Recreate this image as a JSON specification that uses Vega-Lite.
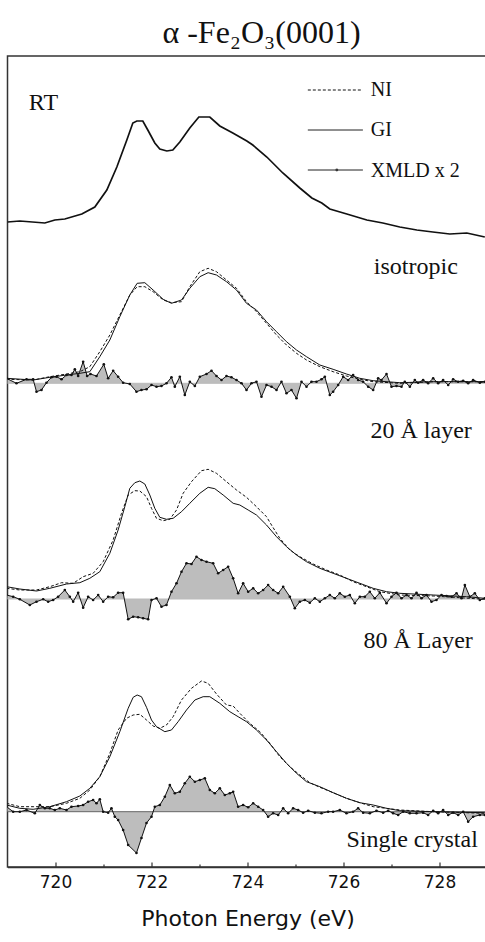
{
"$schema": "https://vega.github.io/schema/vega-lite/v6.json",
"width": 480, "height": 811,
"autosize": {"type": "none"},
"padding": {"left": 7.5, "top": 56, "right": 0, "bottom": 75},
"background": "white",
"title": {"text": "α -Fe₂O₃(0001)", "font": "Liberation Serif", "fontSize": 32, "fontWeight": "normal", "color": "#111", "dx": 14, "offset": 6, "anchor": "middle"},
"config": {"view": {"stroke": "#333", "strokeWidth": 1.5}},
"datasets": {
"RT": [{"E":719.0,"I":645},{"E":719.257,"I":646},{"E":719.778,"I":644},{"E":719.986,"I":647},{"E":720.194,"I":648},{"E":720.548,"I":653},{"E":720.819,"I":660},{"E":721.069,"I":677},{"E":721.278,"I":700},{"E":721.486,"I":727},{"E":721.611,"I":744},{"E":721.694,"I":746},{"E":721.819,"I":746},{"E":721.923,"I":737},{"E":722.069,"I":724},{"E":722.173,"I":718},{"E":722.319,"I":716},{"E":722.444,"I":717},{"E":722.59,"I":725},{"E":722.798,"I":739},{"E":722.986,"I":750},{"E":723.215,"I":750},{"E":723.423,"I":741},{"E":723.694,"I":734},{"E":723.986,"I":726},{"E":724.11,"I":722},{"E":724.403,"I":710},{"E":724.736,"I":694},{"E":725.09,"I":679},{"E":725.34,"I":669},{"E":725.548,"I":664},{"E":725.715,"I":658},{"E":726.069,"I":653},{"E":726.486,"I":647},{"E":726.819,"I":644},{"E":727.173,"I":640},{"E":727.528,"I":637},{"E":727.861,"I":635},{"E":728.215,"I":633},{"E":728.569,"I":634},{"E":728.944,"I":630}],
"isoGI": [{"E":718.979,"I":488.7},{"E":719.534,"I":487},{"E":719.882,"I":489.7},{"E":720.229,"I":492},{"E":720.507,"I":493.7},{"E":720.715,"I":495.3},{"E":720.923,"I":510.3},{"E":721.132,"I":527},{"E":721.34,"I":550.3},{"E":721.548,"I":572},{"E":721.701,"I":583.7},{"E":721.861,"I":584.3},{"E":722.034,"I":577},{"E":722.243,"I":567.7},{"E":722.416,"I":563.7},{"E":722.625,"I":567},{"E":722.798,"I":578.7},{"E":723.007,"I":590.3},{"E":723.18,"I":594.3},{"E":723.354,"I":592},{"E":723.562,"I":585.3},{"E":723.771,"I":577},{"E":723.979,"I":563.7},{"E":724.187,"I":557},{"E":724.396,"I":545.3},{"E":724.604,"I":535.3},{"E":724.812,"I":525.3},{"E":725.021,"I":517},{"E":725.229,"I":510.3},{"E":725.507,"I":502},{"E":725.784,"I":497.7},{"E":726.062,"I":493},{"E":726.34,"I":488.7},{"E":726.618,"I":486.3},{"E":727.173,"I":484.3},{"E":727.868,"I":485.3},{"E":728.944,"I":485.3}],
"isoNI": [{"E":718.979,"I":487.7},{"E":719.534,"I":487},{"E":719.882,"I":490.3},{"E":720.229,"I":493},{"E":720.507,"I":495.3},{"E":720.715,"I":500.3},{"E":720.923,"I":515.3},{"E":721.132,"I":532},{"E":721.34,"I":552},{"E":721.548,"I":572},{"E":721.701,"I":580.3},{"E":721.861,"I":580.3},{"E":722.034,"I":575.3},{"E":722.243,"I":567},{"E":722.416,"I":564.3},{"E":722.625,"I":565.3},{"E":722.798,"I":580.3},{"E":723.007,"I":595.3},{"E":723.18,"I":598.7},{"E":723.354,"I":595.3},{"E":723.562,"I":587},{"E":723.771,"I":578.7},{"E":723.979,"I":565.3},{"E":724.187,"I":555.3},{"E":724.396,"I":543.7},{"E":724.604,"I":532},{"E":724.812,"I":522},{"E":725.021,"I":513.7},{"E":725.229,"I":507},{"E":725.507,"I":500.3},{"E":725.784,"I":495.3},{"E":726.062,"I":491},{"E":726.34,"I":487.7},{"E":726.618,"I":485.3},{"E":727.173,"I":483.7},{"E":727.868,"I":485.3},{"E":728.944,"I":485.3}],
"isoX": [{"E":718.979,"I":488.7},{"E":719.187,"I":483.7},{"E":719.396,"I":487.7},{"E":719.534,"I":487.7},{"E":719.604,"I":475.3},{"E":719.708,"I":477},{"E":719.812,"I":484.3},{"E":719.916,"I":489.7},{"E":720.021,"I":490.3},{"E":720.125,"I":487.7},{"E":720.229,"I":492},{"E":720.333,"I":492},{"E":720.403,"I":497.7},{"E":720.472,"I":491},{"E":720.576,"I":505.3},{"E":720.659,"I":491},{"E":720.729,"I":493},{"E":720.854,"I":491},{"E":721.007,"I":502.7},{"E":721.097,"I":488.7},{"E":721.201,"I":496.3},{"E":721.305,"I":490.3},{"E":721.409,"I":484.3},{"E":721.548,"I":483},{"E":721.687,"I":475.3},{"E":721.791,"I":477},{"E":721.896,"I":477.7},{"E":722.0,"I":482},{"E":722.104,"I":480.3},{"E":722.208,"I":481},{"E":722.312,"I":483.7},{"E":722.416,"I":489.7},{"E":722.486,"I":480.3},{"E":722.59,"I":490.3},{"E":722.694,"I":472},{"E":722.798,"I":485.3},{"E":722.903,"I":481},{"E":723.007,"I":490.3},{"E":723.146,"I":493},{"E":723.25,"I":496.3},{"E":723.354,"I":491},{"E":723.458,"I":487},{"E":723.562,"I":491},{"E":723.666,"I":489.7},{"E":723.771,"I":487},{"E":723.875,"I":483.7},{"E":723.979,"I":477},{"E":724.083,"I":483.7},{"E":724.187,"I":485.3},{"E":724.291,"I":470.3},{"E":724.396,"I":482},{"E":724.5,"I":480.3},{"E":724.604,"I":477},{"E":724.708,"I":485.3},{"E":724.812,"I":473.7},{"E":724.916,"I":477},{"E":725.021,"I":468.7},{"E":725.125,"I":485.3},{"E":725.229,"I":480.3},{"E":725.333,"I":485.3},{"E":725.437,"I":485.3},{"E":725.541,"I":487.7},{"E":725.611,"I":490.3},{"E":725.715,"I":472},{"E":725.784,"I":475.3},{"E":725.889,"I":482},{"E":725.993,"I":490.3},{"E":726.097,"I":487},{"E":726.201,"I":492},{"E":726.305,"I":487},{"E":726.409,"I":485.3},{"E":726.514,"I":480.3},{"E":726.618,"I":477},{"E":726.722,"I":488.7},{"E":726.791,"I":487},{"E":726.896,"I":493},{"E":727.0,"I":480.3},{"E":727.104,"I":481},{"E":727.208,"I":480.3},{"E":727.277,"I":485.3},{"E":727.382,"I":480.3},{"E":727.486,"I":487},{"E":727.555,"I":484.3},{"E":727.659,"I":487},{"E":727.763,"I":483.7},{"E":727.868,"I":488.7},{"E":727.972,"I":483.7},{"E":728.076,"I":487},{"E":728.181,"I":482},{"E":728.284,"I":487.7},{"E":728.389,"I":485.3},{"E":728.493,"I":486.3},{"E":728.597,"I":483.7},{"E":728.701,"I":487},{"E":728.84,"I":484.3},{"E":728.944,"I":485.3}],
"l20GI": [{"E":718.979,"I":280.3},{"E":719.257,"I":278},{"E":719.604,"I":276},{"E":719.882,"I":278.7},{"E":720.229,"I":283},{"E":720.507,"I":284.3},{"E":720.715,"I":288.7},{"E":720.923,"I":295.3},{"E":721.132,"I":313.7},{"E":721.305,"I":337},{"E":721.444,"I":360.3},{"E":721.548,"I":378.7},{"E":721.653,"I":384.3},{"E":721.757,"I":386},{"E":721.861,"I":383},{"E":721.965,"I":372},{"E":722.069,"I":358.7},{"E":722.173,"I":349.7},{"E":722.312,"I":347.7},{"E":722.451,"I":348.7},{"E":722.625,"I":355.3},{"E":722.798,"I":363.7},{"E":723.007,"I":373.7},{"E":723.18,"I":379.7},{"E":723.319,"I":378.3},{"E":723.493,"I":372},{"E":723.701,"I":363.7},{"E":723.84,"I":362},{"E":724.014,"I":357},{"E":724.187,"I":352},{"E":724.396,"I":342},{"E":724.604,"I":330.3},{"E":724.812,"I":320.3},{"E":725.021,"I":312},{"E":725.229,"I":305.3},{"E":725.507,"I":298.7},{"E":725.784,"I":293.7},{"E":726.062,"I":288.7},{"E":726.34,"I":283.7},{"E":726.618,"I":278.7},{"E":726.896,"I":275.3},{"E":727.173,"I":273.7},{"E":727.868,"I":272},{"E":728.562,"I":270.3},{"E":728.944,"I":268.7}],
"l20NI": [{"E":718.979,"I":278.7},{"E":719.257,"I":277},{"E":719.604,"I":277},{"E":719.882,"I":280.3},{"E":720.125,"I":284.3},{"E":720.368,"I":283.7},{"E":720.576,"I":290.3},{"E":720.784,"I":293.7},{"E":720.993,"I":305.3},{"E":721.201,"I":327},{"E":721.375,"I":353.7},{"E":721.514,"I":372},{"E":721.653,"I":376.3},{"E":721.757,"I":376},{"E":721.896,"I":370.3},{"E":722.0,"I":358.7},{"E":722.104,"I":348.7},{"E":722.243,"I":346.3},{"E":722.382,"I":347.7},{"E":722.521,"I":357},{"E":722.659,"I":373.7},{"E":722.833,"I":385.3},{"E":723.041,"I":396.3},{"E":723.18,"I":397.7},{"E":723.354,"I":393.7},{"E":723.562,"I":385.3},{"E":723.771,"I":377},{"E":723.979,"I":369.7},{"E":724.187,"I":360.3},{"E":724.396,"I":350.3},{"E":724.5,"I":342},{"E":724.673,"I":328.7},{"E":724.882,"I":317},{"E":725.09,"I":310.3},{"E":725.368,"I":303},{"E":725.646,"I":297},{"E":725.923,"I":292},{"E":726.201,"I":285.3},{"E":726.479,"I":280.3},{"E":726.757,"I":275.3},{"E":727.173,"I":272},{"E":727.868,"I":271},{"E":728.944,"I":267.7}],
"l20X": [{"E":718.979,"I":272},{"E":719.118,"I":270.3},{"E":719.257,"I":267.7},{"E":719.465,"I":262},{"E":719.604,"I":265.3},{"E":719.743,"I":267.7},{"E":719.847,"I":265.3},{"E":719.951,"I":267},{"E":720.055,"I":270.3},{"E":720.194,"I":277},{"E":720.298,"I":270.3},{"E":720.368,"I":265.3},{"E":720.472,"I":274.3},{"E":720.576,"I":259.3},{"E":720.68,"I":270.3},{"E":720.784,"I":267},{"E":720.889,"I":272},{"E":720.993,"I":265.3},{"E":721.097,"I":270.3},{"E":721.201,"I":269.7},{"E":721.305,"I":274.3},{"E":721.409,"I":274.3},{"E":721.514,"I":247.7},{"E":721.618,"I":250.3},{"E":721.722,"I":249.7},{"E":721.826,"I":248.7},{"E":721.93,"I":247.7},{"E":722.0,"I":267},{"E":722.104,"I":268.7},{"E":722.208,"I":260.3},{"E":722.312,"I":262},{"E":722.416,"I":275.3},{"E":722.521,"I":283.7},{"E":722.625,"I":295.3},{"E":722.729,"I":303.7},{"E":722.833,"I":303},{"E":722.937,"I":310.3},{"E":723.041,"I":307},{"E":723.146,"I":305.3},{"E":723.284,"I":303.7},{"E":723.388,"I":293.7},{"E":723.493,"I":297},{"E":723.597,"I":300.3},{"E":723.701,"I":288.7},{"E":723.805,"I":273.7},{"E":723.909,"I":283.7},{"E":724.014,"I":275.3},{"E":724.118,"I":278.7},{"E":724.222,"I":273.7},{"E":724.326,"I":277},{"E":724.43,"I":282},{"E":724.534,"I":277},{"E":724.639,"I":273.7},{"E":724.743,"I":280.3},{"E":724.882,"I":270.3},{"E":724.986,"I":258.7},{"E":725.09,"I":265.3},{"E":725.194,"I":267},{"E":725.298,"I":264.3},{"E":725.403,"I":268.7},{"E":725.507,"I":265.3},{"E":725.611,"I":268.7},{"E":725.715,"I":272},{"E":725.819,"I":268.7},{"E":725.923,"I":273.7},{"E":726.027,"I":270.3},{"E":726.132,"I":272},{"E":726.236,"I":263.7},{"E":726.34,"I":270.3},{"E":726.444,"I":270.3},{"E":726.548,"I":275.3},{"E":726.652,"I":268.7},{"E":726.757,"I":274.3},{"E":726.896,"I":263.7},{"E":727.0,"I":270.3},{"E":727.104,"I":274.3},{"E":727.208,"I":268.7},{"E":727.312,"I":272},{"E":727.416,"I":268.7},{"E":727.521,"I":274.3},{"E":727.625,"I":268.7},{"E":727.729,"I":272},{"E":727.833,"I":265.3},{"E":727.937,"I":267},{"E":728.041,"I":272},{"E":728.146,"I":271},{"E":728.25,"I":270.3},{"E":728.354,"I":273.7},{"E":728.458,"I":268.7},{"E":728.528,"I":282},{"E":728.632,"I":270.3},{"E":728.736,"I":273.7},{"E":728.84,"I":267},{"E":728.944,"I":268.7}],
"bGI": [{"E":718.979,"I":62},{"E":719.257,"I":58.7},{"E":719.534,"I":57.7},{"E":719.882,"I":60.3},{"E":720.229,"I":65.3},{"E":720.507,"I":71},{"E":720.715,"I":78.7},{"E":720.923,"I":90.3},{"E":721.132,"I":110.3},{"E":721.34,"I":135.3},{"E":721.514,"I":158.7},{"E":721.618,"I":169.7},{"E":721.701,"I":172},{"E":721.791,"I":170.3},{"E":721.896,"I":159.7},{"E":722.0,"I":147},{"E":722.104,"I":140.3},{"E":722.278,"I":135.3},{"E":722.416,"I":137},{"E":722.555,"I":145.3},{"E":722.729,"I":157},{"E":722.903,"I":167},{"E":723.076,"I":170.3},{"E":723.215,"I":170.3},{"E":723.423,"I":163.7},{"E":723.632,"I":155.3},{"E":723.805,"I":150.3},{"E":723.979,"I":145.3},{"E":724.187,"I":137},{"E":724.396,"I":127},{"E":724.604,"I":115.3},{"E":724.812,"I":103.7},{"E":725.021,"I":93.7},{"E":725.229,"I":85.3},{"E":725.507,"I":80.3},{"E":725.784,"I":74.3},{"E":726.062,"I":68.7},{"E":726.34,"I":64.3},{"E":726.618,"I":62},{"E":726.896,"I":58.7},{"E":727.173,"I":56.3},{"E":727.868,"I":55.3},{"E":728.944,"I":54.3}],
"bNI": [{"E":718.979,"I":63.7},{"E":719.257,"I":60.3},{"E":719.534,"I":60.3},{"E":719.882,"I":60.3},{"E":720.229,"I":63.7},{"E":720.507,"I":68.7},{"E":720.715,"I":77},{"E":720.923,"I":90.3},{"E":721.132,"I":113.7},{"E":721.305,"I":137},{"E":721.479,"I":148.7},{"E":721.618,"I":152},{"E":721.757,"I":152.7},{"E":721.896,"I":147},{"E":722.034,"I":141},{"E":722.173,"I":138.7},{"E":722.312,"I":142},{"E":722.451,"I":150.3},{"E":722.625,"I":167},{"E":722.833,"I":178.7},{"E":723.041,"I":186},{"E":723.18,"I":183.7},{"E":723.354,"I":173},{"E":723.562,"I":162},{"E":723.701,"I":161},{"E":723.84,"I":153.7},{"E":724.048,"I":143.7},{"E":724.257,"I":135.3},{"E":724.465,"I":123.7},{"E":724.673,"I":110.3},{"E":724.882,"I":100.3},{"E":725.09,"I":92},{"E":725.298,"I":84.3},{"E":725.507,"I":79.7},{"E":725.784,"I":74.3},{"E":726.062,"I":68.7},{"E":726.34,"I":64.3},{"E":726.618,"I":60.3},{"E":727.173,"I":57},{"E":727.868,"I":55.3},{"E":728.944,"I":53.7}],
"bX": [{"E":718.979,"I":60.3},{"E":719.118,"I":55.3},{"E":719.257,"I":55.3},{"E":719.396,"I":57},{"E":719.569,"I":53.7},{"E":719.673,"I":62},{"E":719.778,"I":58.7},{"E":719.882,"I":58.7},{"E":719.986,"I":57},{"E":720.09,"I":58.7},{"E":720.229,"I":57},{"E":720.333,"I":60.3},{"E":720.472,"I":61},{"E":720.576,"I":62},{"E":720.68,"I":65.3},{"E":720.784,"I":67},{"E":720.854,"I":63.7},{"E":720.923,"I":67.7},{"E":720.993,"I":55.3},{"E":721.097,"I":54.3},{"E":721.166,"I":58.7},{"E":721.236,"I":50.3},{"E":721.305,"I":47},{"E":721.409,"I":37},{"E":721.514,"I":22},{"E":721.687,"I":14},{"E":721.791,"I":29},{"E":721.896,"I":44},{"E":722.0,"I":50.3},{"E":722.069,"I":60.3},{"E":722.173,"I":62},{"E":722.278,"I":70.3},{"E":722.382,"I":82},{"E":722.486,"I":73.7},{"E":722.59,"I":75.3},{"E":722.694,"I":83.7},{"E":722.798,"I":90.3},{"E":722.903,"I":85.3},{"E":723.007,"I":87},{"E":723.111,"I":88.7},{"E":723.215,"I":77},{"E":723.319,"I":73.7},{"E":723.423,"I":78.7},{"E":723.527,"I":72},{"E":723.632,"I":73.7},{"E":723.701,"I":75.3},{"E":723.805,"I":60.3},{"E":723.909,"I":62},{"E":724.014,"I":59.7},{"E":724.118,"I":63.7},{"E":724.222,"I":60.3},{"E":724.326,"I":57},{"E":724.43,"I":50.3},{"E":724.534,"I":53.7},{"E":724.639,"I":52},{"E":724.743,"I":58.7},{"E":724.847,"I":53.7},{"E":724.951,"I":58.7},{"E":725.055,"I":57},{"E":725.159,"I":54.3},{"E":725.264,"I":56.3},{"E":725.403,"I":54.3},{"E":725.541,"I":53.7},{"E":725.68,"I":55.3},{"E":725.784,"I":55.3},{"E":725.923,"I":57},{"E":726.062,"I":53.7},{"E":726.201,"I":55.3},{"E":726.305,"I":58.7},{"E":726.409,"I":54.3},{"E":726.548,"I":53.7},{"E":726.687,"I":56.3},{"E":726.826,"I":54.3},{"E":726.93,"I":56.3},{"E":727.034,"I":53.7},{"E":727.139,"I":52},{"E":727.243,"I":55.3},{"E":727.382,"I":53.7},{"E":727.521,"I":53.7},{"E":727.659,"I":54.3},{"E":727.763,"I":52},{"E":727.868,"I":56.3},{"E":727.972,"I":53.7},{"E":728.076,"I":57},{"E":728.181,"I":52},{"E":728.284,"I":54.3},{"E":728.389,"I":52},{"E":728.493,"I":55.3},{"E":728.597,"I":45.3},{"E":728.701,"I":50.3},{"E":728.84,"I":52},{"E":728.944,"I":52}],
"zeros": [{"set":"iso","E":719,"E2":729,"I":483.7},{"set":"l20","E":719,"E2":729,"I":268},{"set":"bulk","E":719,"E2":729,"I":55.3}],
"legendLines": [{"key":"NI","E":725.257,"E2":726.403,"I":777},{"key":"GI","E":725.257,"E2":726.403,"I":737},{"key":"XMLD","E":725.257,"E2":726.403,"I":697}],
"legendDot": [{"E":725.861,"I":697}],
"legendText": [{"text":"NI","E":726.569,"I":771},{"text":"GI","E":726.569,"I":731},{"text":"XMLD x 2","E":726.569,"I":690}],
"labelsLeft": [{"text":"RT","E":719.444,"I":757}],
"labelsRight": [{"text":"isotropic","E":728.382,"I":593},{"text":"20 Å layer","E":728.673,"I":429},{"text":"80 Å Layer","E":728.694,"I":219},{"text":"Single crystal","E":728.798,"I":20}]
},
"encoding": {
"x": {"field": "E", "type": "quantitative", "scale": {"domain": [719, 729], "nice": false, "zero": false},
 "axis": {"title": "Photon Energy (eV)", "values": [720,721,722,723,724,725,726,727,728],
  "labelExpr": "datum.value % 2 === 0 ? datum.label : ''",
  "tickSize": {"condition": {"test": "datum.value % 2 === 0", "value": -5}, "value": -3},
  "tickColor": "#333", "tickWidth": 1.2, "domainColor": "#333", "domainWidth": 1.5, "grid": false,
  "labelFont": "DejaVu Sans", "labelFontSize": 17, "labelColor": "#111", "labelPadding": 12,
  "titleFont": "DejaVu Sans", "titleFontSize": 22, "titleFontWeight": "normal", "titleColor": "#111", "titlePadding": 18}},
"y": {"field": "I", "type": "quantitative", "scale": {"domain": [0, 811], "nice": false, "zero": false}, "axis": null}
},
"layer": [
{"data": {"name": "isoX"}, "mark": {"type": "area", "color": "#bdbdbd", "clip": true}, "encoding": {"y2": {"datum": 483.7}}},
{"data": {"name": "l20X"}, "mark": {"type": "area", "color": "#bdbdbd", "clip": true}, "encoding": {"y2": {"datum": 268}}},
{"data": {"name": "bX"}, "mark": {"type": "area", "color": "#bdbdbd", "clip": true}, "encoding": {"y2": {"datum": 55.3}}},
{"data": {"name": "zeros"}, "mark": {"type": "rule", "strokeWidth": 1}, "encoding": {"x2": {"field": "E2"}, "color": {"condition": {"test": "datum.set === 'bulk'", "value": "#666"}, "value": "#bbb"}}},
{"data": {"name": "RT"}, "mark": {"type": "line", "color": "#111", "strokeWidth": 1.7, "clip": true}},
{"data": {"name": "isoGI"}, "mark": {"type": "line", "color": "#111", "strokeWidth": 1, "clip": true}},
{"data": {"name": "isoNI"}, "mark": {"type": "line", "color": "#111", "strokeWidth": 1, "strokeDash": [3, 2], "clip": true}},
{"data": {"name": "l20GI"}, "mark": {"type": "line", "color": "#111", "strokeWidth": 1, "clip": true}},
{"data": {"name": "l20NI"}, "mark": {"type": "line", "color": "#111", "strokeWidth": 1, "strokeDash": [3, 2], "clip": true}},
{"data": {"name": "bGI"}, "mark": {"type": "line", "color": "#111", "strokeWidth": 1, "clip": true}},
{"data": {"name": "bNI"}, "mark": {"type": "line", "color": "#111", "strokeWidth": 1, "strokeDash": [3, 2], "clip": true}},
{"data": {"name": "isoX"}, "mark": {"type": "line", "color": "#111", "strokeWidth": 1, "clip": true, "point": {"filled": true, "size": 7, "color": "#111"}}},
{"data": {"name": "l20X"}, "mark": {"type": "line", "color": "#111", "strokeWidth": 1, "clip": true, "point": {"filled": true, "size": 7, "color": "#111"}}},
{"data": {"name": "bX"}, "mark": {"type": "line", "color": "#111", "strokeWidth": 1, "clip": true, "point": {"filled": true, "size": 7, "color": "#111"}}},
{"data": {"name": "legendLines"}, "mark": {"type": "rule", "color": "#111", "strokeWidth": 1}, "encoding": {"x2": {"field": "E2"}, "strokeDash": {"condition": {"test": "datum.key === 'NI'", "value": [3, 2]}, "value": [1, 0]}}},
{"data": {"name": "legendDot"}, "mark": {"type": "point", "filled": true, "size": 8, "color": "#111"}},
{"data": {"name": "legendText"}, "mark": {"type": "text", "align": "left", "baseline": "alphabetic", "font": "Liberation Serif", "fontSize": 20, "color": "#111"}, "encoding": {"text": {"field": "text"}}},
{"data": {"name": "labelsLeft"}, "mark": {"type": "text", "align": "left", "baseline": "alphabetic", "font": "Liberation Serif", "fontSize": 24, "color": "#111"}, "encoding": {"text": {"field": "text"}}},
{"data": {"name": "labelsRight"}, "mark": {"type": "text", "align": "right", "baseline": "alphabetic", "font": "Liberation Serif", "fontSize": 24, "color": "#111"}, "encoding": {"text": {"field": "text"}}}
]
}
